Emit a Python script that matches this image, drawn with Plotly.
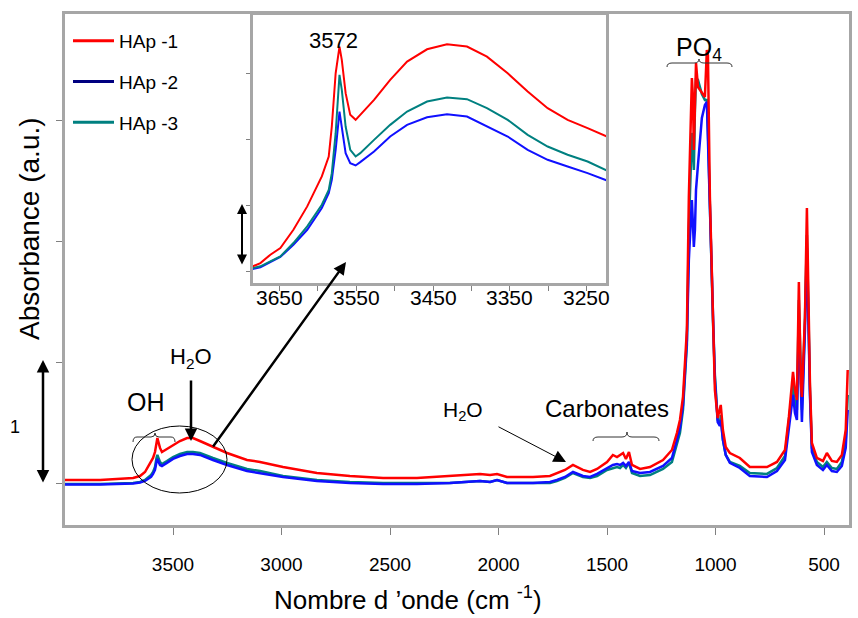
import plotly.graph_objects as go

# ---------------- main spectrum data ----------------
wavenumber = [4000, 3836, 3684, 3652, 3629, 3615, 3601, 3592, 3583, 3576, 3572, 3560, 3551, 3528, 3500,
              3468, 3435, 3408, 3376, 3316, 3251, 3159, 3099, 2993, 2837, 2685, 2532, 2376, 2224, 2085,
              2039, 2007, 1961, 1915, 1841, 1763, 1731, 1694, 1657, 1611, 1578, 1546, 1500, 1473, 1454,
              1440, 1426, 1413, 1399, 1385, 1348, 1302, 1242, 1201, 1178, 1164, 1150, 1132, 1123, 1109,
              1104, 1100, 1095, 1090, 1081, 1072, 1063, 1049, 1040, 1035, 1026, 1012, 1003, 990, 980,
              976, 966, 953, 934, 888, 842, 763, 717, 680, 662, 643, 634, 625, 616, 607,
              602, 588, 579, 565, 556, 533, 505, 487, 464, 441, 418, 400, 391]

hap1 = [0.033, 0.033, 0.050, 0.066, 0.099, 0.140, 0.182, 0.215, 0.264, 0.364, 0.380, 0.298, 0.264, 0.289, 0.322,
        0.355, 0.380, 0.380, 0.355, 0.306, 0.256, 0.198, 0.182, 0.140, 0.091, 0.066, 0.050, 0.050, 0.066, 0.083,
        0.074, 0.083, 0.058, 0.058, 0.058, 0.066, 0.091, 0.116, 0.157, 0.116, 0.099, 0.124, 0.182, 0.240, 0.223,
        0.240, 0.256, 0.207, 0.264, 0.157, 0.124, 0.140, 0.198, 0.281, 0.421, 0.529, 0.719, 1.273, 2.372, 3.355,
        3.198, 2.760, 3.091, 3.479, 3.281, 3.256, 3.240, 3.198, 3.587, 3.545, 2.372, 1.273, 0.777, 0.545, 0.628,
        0.653, 0.446, 0.306, 0.256, 0.215, 0.140, 0.140, 0.182, 0.281, 0.554, 0.926, 0.777, 0.694, 1.669, 0.835,
        0.719, 1.380, 2.281, 0.835, 0.339, 0.215, 0.190, 0.256, 0.190, 0.182, 0.240, 0.446, 0.942]

hap2 = [-0.004, -0.004, 0.004, 0.012, 0.025, 0.041, 0.058, 0.083, 0.116, 0.182, 0.207, 0.157, 0.149, 0.174, 0.207,
        0.231, 0.248, 0.248, 0.240, 0.198, 0.157, 0.107, 0.091, 0.058, 0.025, 0.008, 0.000, 0.000, 0.008, 0.025,
        0.017, 0.033, 0.008, 0.008, 0.008, 0.017, 0.033, 0.058, 0.099, 0.066, 0.058, 0.083, 0.132, 0.157, 0.165,
        0.157, 0.174, 0.149, 0.182, 0.107, 0.091, 0.099, 0.149, 0.215, 0.364, 0.463, 0.653, 1.190, 1.851, 2.347,
        2.140, 1.959, 2.099, 2.430, 2.636, 2.843, 3.025, 3.132, 3.157, 2.843, 2.223, 1.314, 0.860, 0.512, 0.479,
        0.529, 0.364, 0.240, 0.174, 0.132, 0.066, 0.058, 0.107, 0.198, 0.463, 0.736, 0.587, 0.529, 1.355, 0.694,
        0.512, 1.273, 1.950, 0.736, 0.264, 0.157, 0.116, 0.157, 0.107, 0.099, 0.149, 0.298, 0.612]

hap3 = [0.000, 0.000, 0.008, 0.017, 0.033, 0.050, 0.074, 0.099, 0.140, 0.215, 0.240, 0.182, 0.165, 0.190, 0.223,
        0.248, 0.264, 0.264, 0.256, 0.215, 0.174, 0.124, 0.107, 0.066, 0.033, 0.017, 0.008, 0.008, 0.008, 0.025,
        0.017, 0.033, 0.008, 0.008, 0.008, 0.008, 0.025, 0.050, 0.091, 0.058, 0.050, 0.066, 0.116, 0.132, 0.140,
        0.132, 0.157, 0.132, 0.174, 0.091, 0.066, 0.074, 0.124, 0.182, 0.322, 0.421, 0.612, 1.149, 2.099, 2.901,
        2.785, 2.595, 3.091, 3.355, 3.339, 3.273, 3.223, 3.174, 3.174, 2.926, 2.264, 1.355, 0.901, 0.529, 0.488,
        0.570, 0.364, 0.240, 0.182, 0.149, 0.091, 0.083, 0.132, 0.231, 0.529, 0.818, 0.669, 0.612, 1.521, 0.777,
        0.612, 1.355, 2.058, 0.777, 0.298, 0.182, 0.140, 0.182, 0.132, 0.124, 0.182, 0.364, 0.736]

# ---------------- inset (OH region) data ----------------
inset_wn = [3685, 3675, 3662, 3649, 3632, 3614, 3595, 3586, 3582, 3577, 3572, 3569, 3564, 3558, 3551,
            3545, 3527, 3506, 3484, 3458, 3432, 3406, 3380, 3353, 3327, 3301, 3275, 3249, 3224]
inset_hap1 = [0.076, 0.126, 0.253, 0.354, 0.632, 0.987, 1.442, 1.745, 2.201, 3.010, 3.415, 3.212, 2.707, 2.378, 2.302,
              2.378, 2.605, 2.909, 3.187, 3.374, 3.450, 3.415, 3.263, 3.010, 2.732, 2.479, 2.302, 2.175, 2.049]
inset_hap3 = [0.051, 0.076, 0.152, 0.228, 0.430, 0.683, 1.012, 1.239, 1.492, 2.099, 2.985, 2.757, 2.201, 1.847, 1.745,
              1.796, 1.998, 2.226, 2.428, 2.580, 2.641, 2.616, 2.479, 2.302, 2.074, 1.897, 1.771, 1.669, 1.533]
inset_hap2 = [0.035, 0.061, 0.142, 0.218, 0.405, 0.632, 0.961, 1.189, 1.391, 1.847, 2.428, 2.201, 1.796, 1.644, 1.609,
              1.659, 1.821, 2.049, 2.226, 2.342, 2.388, 2.352, 2.201, 2.049, 1.847, 1.695, 1.594, 1.492, 1.381]

series_names = ["HAp -1", "HAp -2", "HAp -3"]
line_colors = ["#ff0000", "#1010ff", "#008080"]
legend_colors = ["#ff0000", "#000080", "#008080"]

main_ticks = [3500, 3000, 2500, 2000, 1500, 1000, 500]
inset_ticks = [3650, 3600, 3550, 3500, 3450, 3400, 3350, 3300, 3250]
inset_labels = ["3650", "", "3550", "", "3450", "", "3350", "", "3250"]

W, H = 858, 618
FONT = "Liberation Sans, Arial, sans-serif"


def P(x):
    return x / W


def Q(y):
    return 1 - y / H


fig = go.Figure()

# legend-only entries
for name, c in zip(series_names, legend_colors):
    fig.add_trace(go.Scatter(x=[None], y=[None], mode="lines", name=name,
                             line=dict(color=c, width=3), legendgroup=name))

# main traces (draw teal, blue, then red on top)
main_series = [hap1, hap2, hap3]
for idx in [2, 1, 0]:
    fig.add_trace(go.Scatter(x=wavenumber, y=main_series[idx], mode="lines",
                             line=dict(color=line_colors[idx], width=2.5),
                             showlegend=False, hoverinfo="skip", xaxis="x", yaxis="y"))

inset_series = [inset_hap1, inset_hap2, inset_hap3]
for idx in [1, 2, 0]:
    fig.add_trace(go.Scatter(x=inset_wn, y=inset_series[idx], mode="lines",
                             line=dict(color=line_colors[idx], width=2),
                             showlegend=False, hoverinfo="skip", xaxis="x2", yaxis="y2"))

frame = "#a6a6a6"

fig.update_layout(
    width=W, height=H,
    margin=dict(l=0, r=0, t=0, b=0),
    paper_bgcolor="white", plot_bgcolor="white",
    font=dict(family=FONT, color="black"),
    showlegend=True,
    legend=dict(x=P(68), y=Q(22), xanchor="left", yanchor="top",
                font=dict(size=19, family=FONT), itemwidth=41,
                tracegroupgap=13, traceorder="grouped", bgcolor="rgba(0,0,0,0)"),
    xaxis=dict(domain=[P(64.5), P(849)], range=[4000, 385], tickvals=main_ticks,
               showgrid=False, zeroline=False, showline=True, mirror=True, automargin=False,
               linecolor=frame, linewidth=3, ticks="outside", ticklen=7, tickcolor="#808080",
               tickfont=dict(size=19, family=FONT), ticklabelstandoff=13),
    yaxis=dict(domain=[Q(525), Q(14)], range=[-0.339, 3.884], tickvals=[0, 1, 2, 3],
               showticklabels=False, showgrid=False, zeroline=False, showline=True, mirror=True,
               automargin=False,
               linecolor=frame, linewidth=3, ticks="outside", ticklen=6, tickcolor="#808080"),
    xaxis2=dict(domain=[P(252.7), P(606)], range=[3685, 3225], anchor="y2",
                tickvals=inset_ticks, showticklabels=False, automargin=False,
                showgrid=False, zeroline=False, showline=True, mirror=True,
                linecolor=frame, linewidth=2.5, ticks="outside", ticklen=5, tickcolor="#808080"),
    yaxis2=dict(domain=[Q(283), Q(15)], range=[-0.177, 3.895], anchor="x2",
                tickvals=[0, 1, 2, 3], showticklabels=False, automargin=False,
                showgrid=False, zeroline=False, showline=True, mirror=True,
                linecolor=frame, linewidth=2.5, ticks="outside", ticklen=4, tickcolor="#808080"),
)


def brace(x0, x1, xc, yend, yh, ytip, r=5):
    pts = [(x0, yend), (x0, yh), (x0 + r, yh), (xc - r, yh), (xc, yh), (xc, ytip),
           (xc, yh), (xc + r, yh), (x1 - r, yh), (x1, yh), (x1, yend)]
    s = [(P(a), Q(b)) for a, b in pts]
    return ("M {0[0]},{0[1]} Q {1[0]},{1[1]} {2[0]},{2[1]} L {3[0]},{3[1]} "
            "Q {4[0]},{4[1]} {5[0]},{5[1]} Q {6[0]},{6[1]} {7[0]},{7[1]} "
            "L {8[0]},{8[1]} Q {9[0]},{9[1]} {10[0]},{10[1]}").format(*s)


shapes = [
    dict(type="path", xref="paper", yref="paper", path=brace(667, 732, 699, 67, 63, 59),
         line=dict(color="#333333", width=1)),
    dict(type="path", xref="paper", yref="paper", path=brace(593, 659, 627, 441, 437, 432),
         line=dict(color="#333333", width=1)),
    dict(type="path", xref="paper", yref="paper", path=brace(133, 175, 155, 442, 437, 433, r=4),
         line=dict(color="#333333", width=1)),
    dict(type="circle", xref="paper", yref="paper", x0=P(132), x1=P(227), y0=Q(493), y1=Q(426),
         line=dict(color="black", width=1)),
]
fig.update_layout(shapes=shapes)

ann = []

# inset tick labels placed on the inset x axis
for v, lab in zip(inset_ticks, inset_labels):
    if lab:
        ann.append(dict(x=v, y=Q(297), xref="x2", yref="paper", text=lab, showarrow=False,
                        font=dict(size=21, family=FONT, color="black"),
                        xanchor="center", yanchor="middle"))


def text(x, y, t, size, family=FONT, yanchor="middle"):
    ann.append(dict(x=P(x), y=Q(y), xref="paper", yref="paper", text=t, showarrow=False,
                    font=dict(size=size, family=family, color="black"), xanchor="center", yanchor=yanchor))


def arrow(hx, hy, tx, ty, width, size=1, both=False, head=2):
    d = dict(x=P(hx), y=Q(hy), xref="paper", yref="paper", ax=tx - hx, ay=ty - hy,
             axref="pixel", ayref="pixel", text="", showarrow=True, arrowhead=head,
             arrowwidth=width, arrowsize=size, arrowcolor="black")
    if both:
        d["arrowside"] = "end+start"
        d["startarrowhead"] = head
        d["startarrowsize"] = size
    ann.append(d)


text(333, 40, "3572", 22)
text(699, 49, "PO<sub>4</sub>", 25)
text(607, 408, "Carbonates", 24)
text(463, 411, "H<sub>2</sub>O", 21)
text(146, 402, "OH", 25)
text(191, 358, "H<sub>2</sub>O", 22)
text(15, 427, "1", 18)
text(408, 617, "Nombre d ’onde (cm <sup>-1</sup>)", 26, yanchor="bottom")
ann.append(dict(x=P(29), y=Q(229), xref="paper", yref="paper", text="Absorbance (a.u.)",
                showarrow=False, textangle=-90, font=dict(size=28, family=FONT, color="black"),
                xanchor="center", yanchor="middle"))

arrow(346, 262, 212, 448, 2.5)
arrow(191, 441, 191, 379, 2.5)
arrow(566, 462, 497, 426, 1, size=2.5)
arrow(43, 360, 43, 484, 2.5, both=True)
arrow(242, 204, 242, 266, 2, both=True)

fig.update_layout(annotations=ann)

fig.write_html("out.html", config={"displayModeBar": False},
               post_script="document.body.style.margin='0';document.body.style.padding='0';")
